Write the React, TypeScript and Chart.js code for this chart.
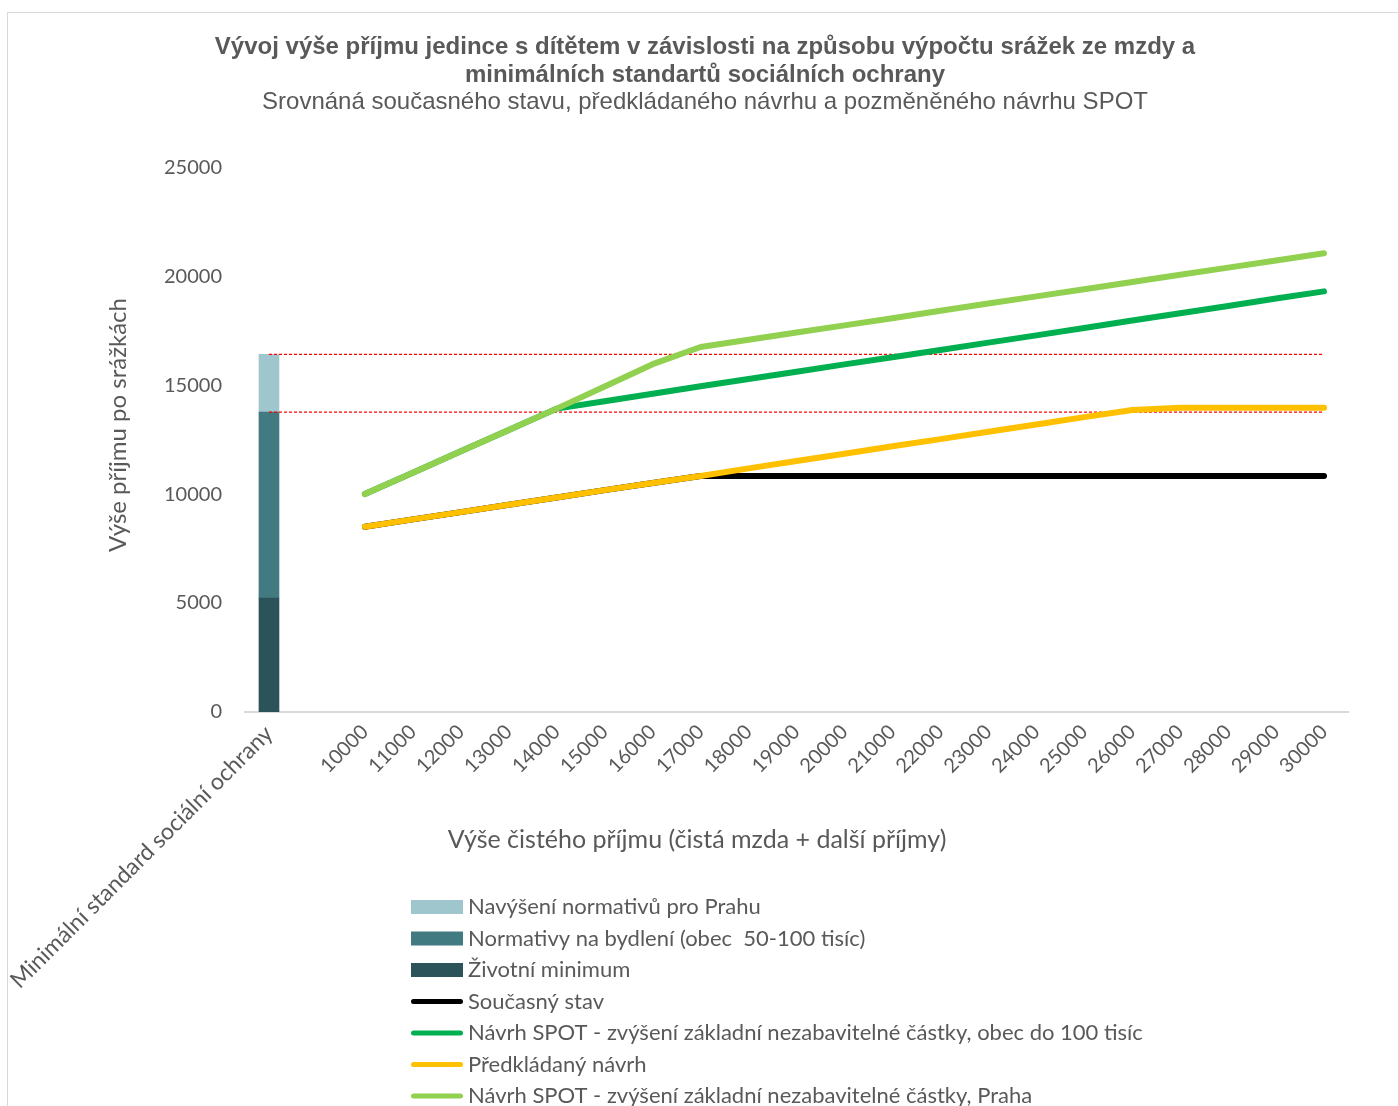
import React, { useEffect, useRef } from "react";
import { Chart, registerables } from "chart.js";

Chart.register(...registerables);

// ---------- data ----------
const standardLabel = "Minimální standard sociální ochrany";
const incomeLevels = [
  "10000", "11000", "12000", "13000", "14000", "15000", "16000", "17000",
  "18000", "19000", "20000", "21000", "22000", "23000", "24000", "25000",
  "26000", "27000", "28000", "29000", "30000",
];
const categories = [standardLabel, "", ...incomeLevels];

const zivotniMinimum = [5230];
const normativyBydleni = [8530];
const navyseniPraha = [2650];

const soucasnyStav = [
  8500, 8840, 9170, 9510, 9840, 10180, 10510, 10830,
  10830, 10830, 10830, 10830, 10830, 10830, 10830, 10830,
  10830, 10830, 10830, 10830, 10830,
];
const spotObec = [
  10000, 10980, 11960, 12940, 13920, 14260, 14600, 14950,
  15280, 15610, 15950, 16280, 16610, 16950, 17280, 17620,
  17960, 18300, 18630, 18970, 19300,
];
const predkladanyNavrh = [
  8500, 8840, 9170, 9510, 9840, 10180, 10510, 10830,
  11180, 11520, 11850, 12190, 12520, 12860, 13190, 13530,
  13860, 13960, 13960, 13960, 13960,
];
const spotPraha = [
  10000, 10980, 11960, 12940, 13920, 14940, 15960, 16750,
  17080, 17410, 17740, 18070, 18410, 18740, 19070, 19400,
  19730, 20060, 20390, 20720, 21050,
];

const hranicePraha = 16410;
const hraniceObec = 13760;

const yMin = 0;
const yMax = 25000;
const yStep = 5000;

const titleLines = [
  "Vývoj výše příjmu jedince s dítětem v závislosti na způsobu výpočtu srážek ze mzdy a",
  "minimálních standartů sociálních ochrany",
];
const subtitleText = "Srovnáná současného stavu, předkládaného návrhu a pozměněného návrhu SPOT";
const xTitle = "Výše čistého příjmu (čistá mzda + další příjmy)";
const yTitle = "Výše příjmu po srážkách";

// ---------- styles ----------
const TEXT = "#595959";
const FONT = "Lato";

const customText = {
  id: "customText",
  afterDraw(chart: any) {
    const ctx = chart.ctx as CanvasRenderingContext2D;
    const area = chart.chartArea;
    ctx.save();
    ctx.fillStyle = TEXT;
    ctx.textBaseline = "middle";
    // x axis title
    ctx.textAlign = "center";
    ctx.font = `25px ${FONT}`;
    ctx.fillText(xTitle, 689, area.bottom + 128);
    // y axis title
    ctx.save();
    ctx.translate(110, 412);
    ctx.rotate(-Math.PI / 2);
    ctx.font = `24px ${FONT}`;
    ctx.fillText(yTitle, 0, 0);
    ctx.restore();

    // legend
    const items = chart.data.datasets
      .filter((ds: any) => ds.legendRank !== undefined)
      .sort((a: any, b: any) => a.legendRank - b.legendRank);
    const x0 = 403;
    const boxW = 52;
    const y0 = area.bottom + 195;
    const step = 31.5;
    ctx.textAlign = "left";
    ctx.font = `22px ${FONT}`;
    items.forEach((ds: any, i: number) => {
      const y = y0 + i * step;
      if (ds.type === "bar") {
        ctx.fillStyle = ds.backgroundColor;
        ctx.fillRect(x0, y - 7, boxW, 14);
      } else {
        ctx.strokeStyle = ds.borderColor;
        ctx.lineWidth = 5;
        ctx.lineCap = "round";
        ctx.beginPath();
        ctx.moveTo(x0 + 2.5, y);
        ctx.lineTo(x0 + boxW - 2.5, y);
        ctx.stroke();
      }
      ctx.fillStyle = TEXT;
      ctx.fillText(ds.label, x0 + boxW + 5, y);
    });
    ctx.restore();
  },
};

const lineBase = {
  type: "line" as const,
  borderWidth: 6,
  pointRadius: 0,
  pointHoverRadius: 0,
  tension: 0,
  fill: false,
  borderCapStyle: "round" as const,
  borderJoinStyle: "round" as const,
};

export default function App() {
  const canvasRef = useRef<HTMLCanvasElement | null>(null);

  useEffect(() => {
    if (!canvasRef.current) return;
    Chart.defaults.font.family = FONT;
    const chart = new Chart(canvasRef.current, {
      data: {
        labels: categories,
        datasets: [
          {
            type: "bar",
            label: "Životní minimum",
            data: zivotniMinimum,
            backgroundColor: "#2C525A",
            stack: "standard",
            barThickness: 20,
            order: 10,
            legendRank: 2,
          } as any,
          {
            type: "bar",
            label: "Normativy na bydlení (obec  50-100 tisíc)",
            data: normativyBydleni,
            backgroundColor: "#427A82",
            stack: "standard",
            barThickness: 20,
            order: 11,
            legendRank: 1,
          } as any,
          {
            type: "bar",
            label: "Navýšení normativů pro Prahu",
            data: navyseniPraha,
            backgroundColor: "#9FC6CC",
            stack: "standard",
            barThickness: 20,
            order: 12,
            legendRank: 0,
          } as any,
          {
            ...lineBase,
            label: "Hranice Praha",
            data: [
              { x: standardLabel, y: hranicePraha },
              { x: incomeLevels[incomeLevels.length - 1], y: hranicePraha },
            ],
            borderColor: "#FF0000",
            borderWidth: 1.3,
            borderDash: [3, 2],
            borderCapStyle: "butt",
            stack: "r1",
            order: 5,
          } as any,
          {
            ...lineBase,
            label: "Hranice obec",
            data: [
              { x: standardLabel, y: hraniceObec },
              { x: incomeLevels[incomeLevels.length - 1], y: hraniceObec },
            ],
            borderColor: "#FF0000",
            borderWidth: 1.3,
            borderDash: [3, 2],
            borderCapStyle: "butt",
            stack: "r2",
            order: 5,
          } as any,
          {
            ...lineBase,
            label: "Současný stav",
            data: [null, null, ...soucasnyStav],
            borderColor: "#000000",
            stack: "l1",
            order: 4,
            legendRank: 3,
          } as any,
          {
            ...lineBase,
            label: "Návrh SPOT - zvýšení základní nezabavitelné částky, obec do 100 tisíc",
            data: [null, null, ...spotObec],
            borderColor: "#00B050",
            stack: "l2",
            order: 3,
            legendRank: 4,
          } as any,
          {
            ...lineBase,
            label: "Předkládaný návrh",
            data: [null, null, ...predkladanyNavrh],
            borderColor: "#FFC000",
            stack: "l3",
            order: 2,
            legendRank: 5,
          } as any,
          {
            ...lineBase,
            label: "Návrh SPOT - zvýšení základní nezabavitelné částky, Praha",
            data: [null, null, ...spotPraha],
            borderColor: "#92D050",
            stack: "l4",
            order: 1,
            legendRank: 6,
          } as any,
        ],
      },
      options: {
        responsive: false,
        animation: false,
        layout: { padding: { left: 4, right: 0, top: 0, bottom: 0 } },
        plugins: {
          legend: { display: false },
          tooltip: { enabled: false },
          title: {
            display: true,
            text: titleLines,
            color: TEXT,
            font: { family: "Liberation Sans", size: 24, weight: "bold", lineHeight: 1.17 },
            padding: { top: 20, bottom: 0 },
          },
          subtitle: {
            display: true,
            text: subtitleText,
            color: TEXT,
            font: { family: "Liberation Sans", size: 24, weight: "normal", lineHeight: 1.1 },
            padding: { top: 0, bottom: 51.6 },
          },
        },
        scales: {
          x: {
            type: "category",
            stacked: true,
            grid: { display: false, drawTicks: false },
            border: { display: true, color: "#D9D9D9", width: 2 },
            ticks: {
              autoSkip: false,
              maxRotation: 45,
              minRotation: 45,
              color: TEXT,
              font: (c: any) => ({ family: FONT, size: c.index === 0 ? 23 : 20 }),
              padding: 8,
            },
            afterFit: (scale: any) => {
              scale.height = 394;
              scale.paddingLeft = 0;
              scale.paddingRight = 50;
            },
          },
          y: {
            stacked: true,
            min: yMin,
            max: yMax,
            grid: { display: false, drawTicks: false },
            border: { display: false },
            ticks: {
              stepSize: yStep,
              color: TEXT,
              font: { family: FONT, size: 20 },
              padding: 23,
              callback: (v: any) => String(v),
            },
            afterFit: (scale: any) => {
              scale.width = 233;
            },
          },
        },
      } as any,
      plugins: [customText],
    });
    return () => chart.destroy();
  }, []);

  return (
    <div
      style={{
        position: "absolute",
        left: 7,
        top: 12,
        width: 1390,
        height: 1093,
        borderTop: "1px solid #D9D9D9",
        borderLeft: "1px solid #D9D9D9",
        overflow: "hidden",
        background: "#fff",
      }}
    >
      <canvas
        ref={canvasRef}
        width={1390}
        height={1093}
        style={{ width: 1390, height: 1093, display: "block" }}
      />
    </div>
  );
}
